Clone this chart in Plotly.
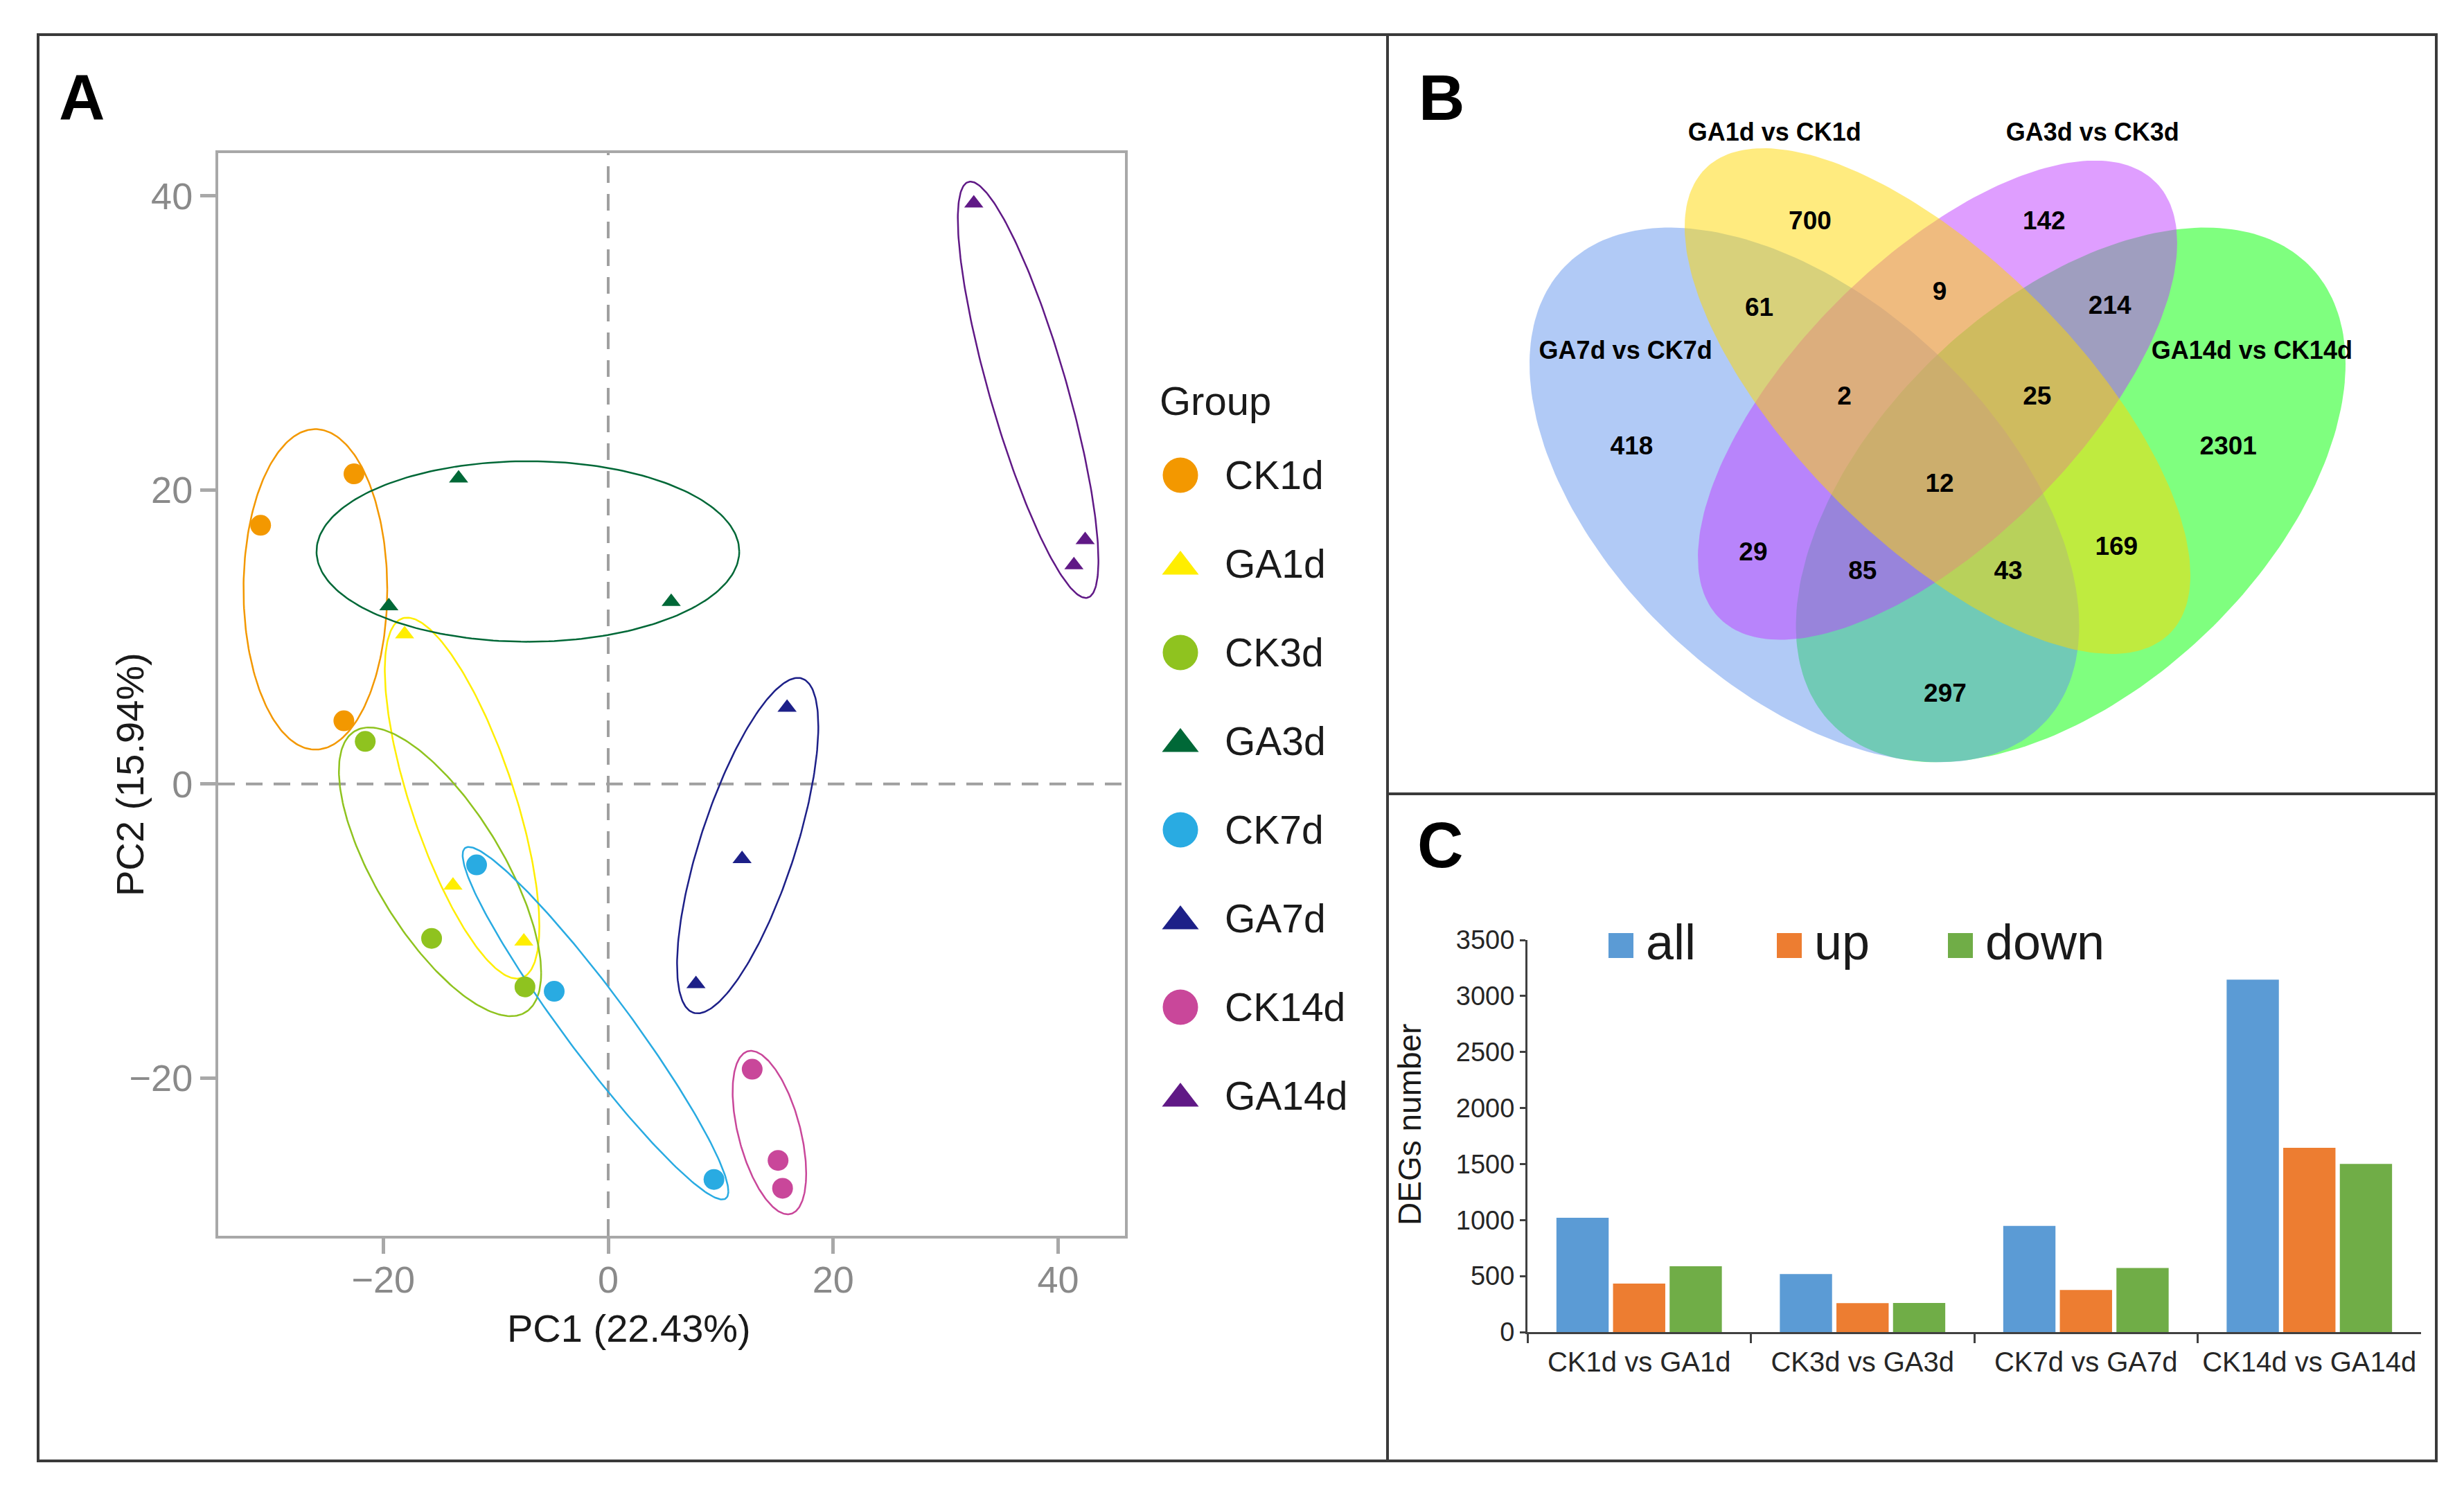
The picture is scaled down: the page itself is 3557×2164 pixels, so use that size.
import numpy as np
import plotly.graph_objects as go

W, H = 3557, 2164
OFF = 8  # page body margin compensation
FONT = "Liberation Sans, Arial, Helvetica, sans-serif"

# ---------------- Panel A : PCA ----------------
groups = ["CK1d", "GA1d", "CK3d", "GA3d", "CK7d", "GA7d", "CK14d", "GA14d"]
pc1 = {
    "CK1d": [-22.6, -30.9, -23.5],
    "GA1d": [-18.1, -13.8, -7.5],
    "CK3d": [-21.6, -15.7, -7.4],
    "GA3d": [-13.3, -19.5, 5.6],
    "CK7d": [-11.7, -4.8, 9.4],
    "GA7d": [15.9, 11.9, 7.8],
    "CK14d": [12.8, 15.1, 15.5],
    "GA14d": [32.5, 42.4, 41.4],
}
pc2 = {
    "CK1d": [21.1, 17.6, 4.3],
    "GA1d": [10.2, -6.9, -10.7],
    "CK3d": [2.9, -10.5, -13.8],
    "GA3d": [20.8, 12.1, 12.4],
    "CK7d": [-5.5, -14.1, -26.9],
    "GA7d": [5.2, -5.1, -13.6],
    "CK14d": [-19.4, -25.6, -27.5],
    "GA14d": [39.5, 16.6, 14.9],
}
group_colors = ["#F39800", "#FFEE00", "#8FC31F", "#006837",
                "#29ABE2", "#1D2088", "#C9479A", "#601986"]
group_symbols = ["circle", "triangle-up"] * 4
# confidence ellipses: centre, half-extent in x / y, correlation
ell_cx = [-26.03, -12.99, -14.95, -7.14, -1.13, 12.40, 14.33, 37.33]
ell_cy = [13.24, -0.96, -5.97, 15.82, -16.27, -4.19, -23.71, 26.82]
ell_hx = [6.39, 6.87, 8.99, 18.79, 11.81, 6.28, 3.27, 6.25]
ell_hy = [10.90, 12.28, 9.82, 6.14, 11.99, 11.41, 5.56, 14.16]
ell_rho = [0.0, -0.71, -0.70, 0.0, -0.954, 0.71, -0.50, -0.82]
pc_ticks = [-20, 0, 20, 40]

# ---------------- Panel B : Venn ----------------
venn_sets = ["GA7d vs CK7d", "GA1d vs CK1d", "GA3d vs CK3d", "GA14d vs CK14d"]
venn_counts = [700, 142, 418, 2301, 61, 9, 214, 2, 25, 12, 29, 169, 85, 43, 297]

# ---------------- Panel C : DEG bars ----------------
comparisons = ["CK1d vs GA1d", "CK3d vs GA3d", "CK7d vs GA7d", "CK14d vs GA14d"]
deg_all = [1021, 518, 947, 3146]
deg_up = [433, 258, 375, 1645]
deg_down = [588, 260, 572, 1501]
bar_names = ["all", "up", "down"]
bar_colors = ["#5B9BD5", "#ED7D31", "#70AD47"]


def fx(p):
    return (p - OFF) / W


def fy(p):
    return 1 - (p - OFF) / H


fig = go.Figure()

# ---- PCA ellipses and points ----
t = np.linspace(0, 2 * np.pi, 240)
for i, g in enumerate(groups):
    r = ell_rho[i]
    ex = ell_cx[i] + ell_hx[i] * np.cos(t)
    ey = ell_cy[i] + ell_hy[i] * (r * np.cos(t) + np.sqrt(1 - r * r) * np.sin(t))
    fig.add_trace(go.Scatter(x=ex, y=ey, mode="lines", xaxis="x", yaxis="y",
                             line=dict(color=group_colors[i], width=2.5),
                             showlegend=False, hoverinfo="skip"))
for i, g in enumerate(groups):
    tri = group_symbols[i].startswith("triangle")
    fig.add_trace(go.Scatter(x=pc1[g], y=pc2[g], mode="markers", xaxis="x", yaxis="y",
                             marker=dict(symbol=group_symbols[i], color=group_colors[i],
                                         size=24 if tri else 30, line=dict(width=0)),
                             name=g, showlegend=False))

# ---- PCA legend (own invisible axes) ----
leg_y = [686 + 128 * i for i in range(len(groups))]
for i, g in enumerate(groups):
    tri = group_symbols[i].startswith("triangle")
    fig.add_trace(go.Scatter(x=[1704], y=[leg_y[i] + (4 if tri else 0)], mode="markers",
                             xaxis="x2", yaxis="y2",
                             marker=dict(symbol=group_symbols[i], color=group_colors[i],
                                         size=46 if tri else 51, line=dict(width=0)),
                             showlegend=False, hoverinfo="skip"))

# ---- Venn ellipses ----
venn_geo = {  # centre, half extents, correlation (Venn unit space)
    "GA14d vs CK14d": (0.642, 0.470, 0.293, 0.285, 0.49, "rgba(0,255,0,0.5)"),
    "GA7d vs CK7d": (0.358, 0.470, 0.293, 0.285, -0.49, "rgba(100,149,237,0.5)"),
    "GA3d vs CK3d": (0.500, 0.571, 0.2555, 0.2555, 0.656, "rgba(191,62,255,0.5)"),
    "GA1d vs CK1d": (0.500, 0.570, 0.2696, 0.2696, -0.688, "rgba(255,215,0,0.5)"),
}
for name in ["GA14d vs CK14d", "GA7d vs CK7d", "GA3d vs CK3d", "GA1d vs CK1d"]:
    cx, cy, hx, hy, r, col = venn_geo[name]
    vx = cx + hx * np.cos(t)
    vy = cy + hy * (r * np.cos(t) + np.sqrt(1 - r * r) * np.sin(t))
    fig.add_trace(go.Scatter(x=vx, y=vy, mode="lines", fill="toself", fillcolor=col,
                             line=dict(width=0, color="rgba(0,0,0,0)"),
                             xaxis="x3", yaxis="y3", showlegend=False, hoverinfo="skip"))

venn_count_pos_x = [0.3641, 0.6136, 0.1739, 0.8100, 0.3099, 0.5022, 0.6837, 0.4007,
                    0.6062, 0.5022, 0.3035, 0.6908, 0.4201, 0.5753, 0.5081]
venn_count_pos_y = [0.7598, 0.7598, 0.5198, 0.5198, 0.6677, 0.6845, 0.6699, 0.5730,
                    0.5730, 0.4803, 0.4068, 0.4129, 0.3868, 0.3868, 0.2561]
fig.add_trace(go.Scatter(x=venn_count_pos_x, y=venn_count_pos_y, mode="text",
                         text=[str(v) for v in venn_counts], xaxis="x3", yaxis="y3",
                         textfont=dict(family=FONT, size=37, color="black", weight="bold"),
                         showlegend=False, hoverinfo="skip"))
venn_label_x = [0.1674, 0.3262, 0.6653, 0.8352]
venn_label_y = [0.6216, 0.8545, 0.8545, 0.6216]
fig.add_trace(go.Scatter(x=venn_label_x, y=venn_label_y, mode="text", text=venn_sets,
                         xaxis="x3", yaxis="y3",
                         textfont=dict(family=FONT, size=36, color="black", weight="bold"),
                         showlegend=False, hoverinfo="skip"))

# ---- Bars ----
for name, vals, col in zip(bar_names, [deg_all, deg_up, deg_down], bar_colors):
    fig.add_trace(go.Bar(x=comparisons, y=vals, name=name, marker=dict(color=col, line=dict(width=0)),
                         xaxis="x4", yaxis="y4", showlegend=False))

# ---------------- layout ----------------
ann = []
shapes = []

# panel labels
for lab, (px, py) in zip(["A", "B", "C"], [(118, 140), (2081, 141), (2079, 1220)]):
    ann.append(dict(text=lab, x=fx(px), y=fy(py), xref="paper", yref="paper",
                    xanchor="center", yanchor="middle", showarrow=False,
                    font=dict(family=FONT, size=92, color="black", weight="bold")))

# PCA axis titles
ann.append(dict(text="PC1 (22.43%)", x=fx(908), y=fy(1917), xref="paper", yref="paper",
                xanchor="center", yanchor="middle", showarrow=False,
                font=dict(family=FONT, size=56, color="#1a1a1a")))
ann.append(dict(text="PC2 (15.94%)", x=fx(187), y=fy(1118), xref="paper", yref="paper",
                xanchor="center", yanchor="middle", showarrow=False, textangle=-90,
                font=dict(family=FONT, size=56, color="#1a1a1a")))

# PCA legend texts
ann.append(dict(text="Group", x=1672, y=578, xref="x2", yref="y2", xanchor="left",
                yanchor="middle", showarrow=False, font=dict(family=FONT, size=58, color="#1a1a1a")))
for i, g in enumerate(groups):
    ann.append(dict(text=g, x=1766, y=leg_y[i], xref="x2", yref="y2", xanchor="left",
                    yanchor="middle", showarrow=False, font=dict(family=FONT, size=57, color="#1a1a1a")))

# bar legend
leg_bx = [2322, 2565, 2812]
for i, name in enumerate(bar_names):
    shapes.append(dict(type="rect", xref="paper", yref="paper", x0=fx(leg_bx[i]), x1=fx(leg_bx[i] + 36),
                       y0=fy(1383), y1=fy(1347), fillcolor=bar_colors[i], line=dict(width=0)))
    ann.append(dict(text=name, x=fx(leg_bx[i] + 52), y=fy(1360), xref="paper", yref="paper",
                    xanchor="left", yanchor="middle", showarrow=False,
                    font=dict(family=FONT, size=72, color="#1a1a1a")))
ann.append(dict(text="DEGs number", x=fx(2035), y=fy(1624), xref="paper", yref="paper",
                xanchor="center", yanchor="middle", showarrow=False, textangle=-90,
                font=dict(family=FONT, size=46, color="#1a1a1a")))

# dashed zero lines in PCA
shapes.append(dict(type="line", xref="x", yref="y domain", x0=0, x1=0, y0=0, y1=1, layer="below",
                   line=dict(color="#a0a0a0", width=4, dash="24px,16px")))
shapes.append(dict(type="line", xref="x domain", yref="y", x0=0, x1=1, y0=0, y1=0, layer="below",
                   line=dict(color="#a0a0a0", width=4, dash="24px,16px")))

# panel frame
frame = dict(color="#3a3a3a", width=4)
L, R, T, B, V, M = 55, 3517, 50, 2109, 2003, 1146
shapes += [
    dict(type="rect", xref="paper", yref="paper", x0=fx(L), x1=fx(R), y0=fy(B), y1=fy(T), line=frame),
    dict(type="line", xref="paper", yref="paper", x0=fx(V), x1=fx(V), y0=fy(B), y1=fy(T), line=frame),
    dict(type="line", xref="paper", yref="paper", x0=fx(V), x1=fx(R), y0=fy(M), y1=fy(M), line=frame),
]

gray = "#a8a8a8"
fig.update_layout(
    width=W, height=H, margin=dict(l=0, r=0, t=0, b=0, pad=0, autoexpand=False),
    paper_bgcolor="white", plot_bgcolor="rgba(0,0,0,0)",
    font=dict(family=FONT),
    showlegend=False,
    barmode="group", bargap=0.24, bargroupgap=0.077,
    annotations=ann, shapes=shapes,
    xaxis=dict(domain=[fx(315), fx(1624)], range=[-34.67, 45.94], anchor="y", automargin=False,
               tickvals=pc_ticks, showgrid=False, zeroline=False,
               showline=True, mirror=True, linecolor=gray, linewidth=4,
               ticks="outside", ticklen=22, tickwidth=5, tickcolor=gray, ticklabelstandoff=-9,
               tickfont=dict(family=FONT, size=54, color="#8a8a8a")),
    yaxis=dict(domain=[fy(1784), fy(221)], range=[-30.73, 42.92], anchor="x", automargin=False,
               tickvals=pc_ticks, showgrid=False, zeroline=False,
               showline=True, mirror=True, linecolor=gray, linewidth=4,
               ticks="outside", ticklen=22, tickwidth=5, tickcolor=gray,
               tickfont=dict(family=FONT, size=54, color="#8a8a8a")),
    xaxis2=dict(domain=[fx(1640), fx(1995)], range=[1640, 1995], anchor="y2", visible=False,
                automargin=False),
    yaxis2=dict(domain=[fy(1650), fy(500)], range=[1650, 500], anchor="x2", visible=False,
                automargin=False),
    xaxis3=dict(domain=[fx(2003), fx(3517)], range=[(2003 - 2120) / 1354, (3517 - 2120) / 1354],
                anchor="y3", visible=False, automargin=False),
    yaxis3=dict(domain=[fy(1146), fy(50)], range=[(1350.8 - 1146) / 1354, (1350.8 - 50) / 1354],
                anchor="x3", visible=False, automargin=False),
    xaxis4=dict(domain=[fx(2205), fx(3495)], anchor="y4", type="category", automargin=False,
                showline=True, linecolor="#404040", linewidth=3, showgrid=False,
                ticks="outside", tickson="boundaries", ticklen=13, tickwidth=3, tickcolor="#404040",
                ticklabelstandoff=6,
                tickfont=dict(family=FONT, size=40, color="#262626")),
    yaxis4=dict(domain=[fy(1923), fy(1357)], anchor="x4", range=[0, 3500], dtick=500, automargin=False,
                showline=True, linecolor="#404040", linewidth=3, showgrid=False, zeroline=False,
                ticks="outside", ticklen=8, tickwidth=3, tickcolor="#404040",
                tickfont=dict(family=FONT, size=38, color="#262626")),
)

fig.write_html("out.html")
